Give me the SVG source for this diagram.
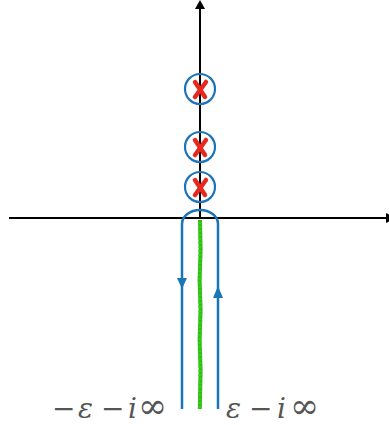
<svg xmlns="http://www.w3.org/2000/svg" width="389" height="425" viewBox="0 0 389 425">
<style>
.axis{stroke:#000;stroke-width:2;fill:none}
.pole{stroke:#1b75b9;stroke-width:2.2;fill:none}
.x{stroke:#e8281e;stroke-width:4.5;stroke-linecap:round}
.contour{stroke:#1b75b9;stroke-width:2.5;fill:none}
.lbl{font-family:"DejaVu Serif","Liberation Serif",serif;font-style:italic;font-size:28px;fill:#555}
.inf{font-size:35px}
</style>
<rect width="389" height="425" fill="#fff"/>
<g id="axes">
<line class="axis" x1="9" y1="218" x2="387" y2="218"/>
<polygon points="386,213 386,223 396,218" fill="#000"/>
<line class="axis" x1="200" y1="218" x2="200" y2="8"/>
<polygon points="200,0 195,9 205,9" fill="#000"/>
</g>
<g id="cut">
<path d="M200,220 L200.6,250 L199.6,280 L200.6,310 L199.6,340 L200.6,370 L199.8,409" stroke="#2fbf10" stroke-width="4" fill="none"/>
<path d="M200,222 V409" stroke="#3ccc20" stroke-width="3" stroke-dasharray="2 2" fill="none"/>
</g>
<g id="pole1"><circle class="pole" cx="200" cy="89" r="15"/><path class="x" d="M195,82 L205,97 M206,82 L195,97"/></g>
<g id="pole2"><circle class="pole" cx="200" cy="147" r="15"/><path class="x" d="M195,140 L205,155 M206,140 L195,155"/></g>
<g id="pole3"><circle class="pole" cx="200" cy="187" r="15"/><path class="x" d="M195,180 L205,195 M206,180 L195,195"/></g>
<g id="connectors">
<path class="contour" d="M182,409 V224 A18,14 0 0 1 218,224 V409"/>
<polygon points="177,278 187,278 182,289" fill="#1b75b9"/>
<polygon points="213,298 223,298 218,286" fill="#1b75b9"/>
</g>
<g id="labels">
<text class="lbl" y="418"><tspan x="52">−</tspan><tspan x="78">ε</tspan><tspan x="101">−</tspan><tspan x="128">i</tspan><tspan class="inf" x="138">∞</tspan></text>
<text class="lbl" y="418"><tspan x="226">ε</tspan><tspan x="249">−</tspan><tspan x="277">i</tspan><tspan class="inf" x="290">∞</tspan></text>
</g>
</svg>
